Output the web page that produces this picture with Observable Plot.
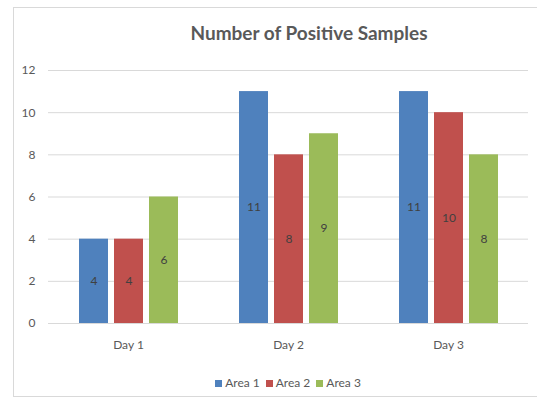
<!DOCTYPE html>
<html><head><meta charset="utf-8">
<script src="https://cdn.jsdelivr.net/npm/d3@7"></script>
<script src="https://cdn.jsdelivr.net/npm/@observablehq/plot@0.6"></script>
<style>
html,body{margin:0;padding:0;background:#fff;}
#wrap{position:relative;width:537px;height:403px;overflow:hidden;font-family:Lato,"Open Sans",sans-serif;}
#frame{position:absolute;left:13px;top:7px;width:600px;height:390px;border:1px solid #d9d9d9;box-sizing:border-box;}
#title{position:absolute;left:0;width:618px;top:21px;text-align:center;font-size:19px;font-weight:bold;color:#595959;}
#chart{position:absolute;left:0;top:0;}
#legend{position:absolute;top:375px;left:0;width:576px;text-align:center;font-size:12px;color:#595959;}
#legend span.sw{display:inline-block;width:7px;height:7px;margin-right:3px;vertical-align:0px;}
#legend span.it{margin:0 3px;}
</style></head>
<body><div id="wrap"><div id="frame"></div><div id="title">Number of Positive Samples</div><div id="chart"></div><div id="legend"></div></div>
<script>
const days = ["Day 1", "Day 2", "Day 3"];
const areas = ["Area 1", "Area 2", "Area 3"];
const area1 = [4, 11, 11];
const area2 = [4, 8, 10];
const area3 = [6, 9, 8];
const colors = ["#4F81BD", "#C0504D", "#9BBB59"];
const yTicks = [0, 2, 4, 6, 8, 10, 12];

const series = [area1, area2, area3];
const data = [];
days.forEach((d, i) => areas.forEach((a, j) => data.push({day: d, area: a, value: series[j][i]})));

const chart = Plot.plot({
  width: 537, height: 403,
  marginLeft: 48, marginRight: 9, marginTop: 70, marginBottom: 80,
  style: {fontFamily: "Lato, 'Open Sans', sans-serif", fontSize: "11px", color: "#595959", background: "transparent"},
  fx: {domain: days, paddingInner: 0, paddingOuter: 0, label: null, axis: null},
  x: {domain: areas, paddingInner: 0.18, paddingOuter: 0.84, axis: null},
  y: {domain: [0, 12], ticks: yTicks, label: null},
  color: {domain: areas, range: colors},
  marks: [
    Plot.ruleY(yTicks, {stroke: "#d9d9d9", strokeWidth: 1}),
    Plot.axisY({ticks: yTicks, tickSize: 0, tickPadding: 13, fontSize: 12, fill: "#595959", label: null}),
    Plot.axisFx({anchor: "bottom", tickSize: 0, tickPadding: 17, fontSize: 12, fontWeight: "normal", fill: "#595959", label: null}),
    Plot.barY(data, {fx: "day", x: "area", y: "value", fill: "area"}),
    Plot.text(data, {fx: "day", x: "area", y: d => d.value / 2, text: d => String(d.value), fill: "#404040", fontSize: 12})
  ]
});
document.getElementById("chart").appendChild(chart);

const lg = document.getElementById("legend");
areas.forEach((a, j) => {
  const it = document.createElement("span");
  it.className = "it";
  it.innerHTML = `<span class="sw" style="background:${colors[j]}"></span>${a}`;
  lg.appendChild(it);
});
</script></body></html>
